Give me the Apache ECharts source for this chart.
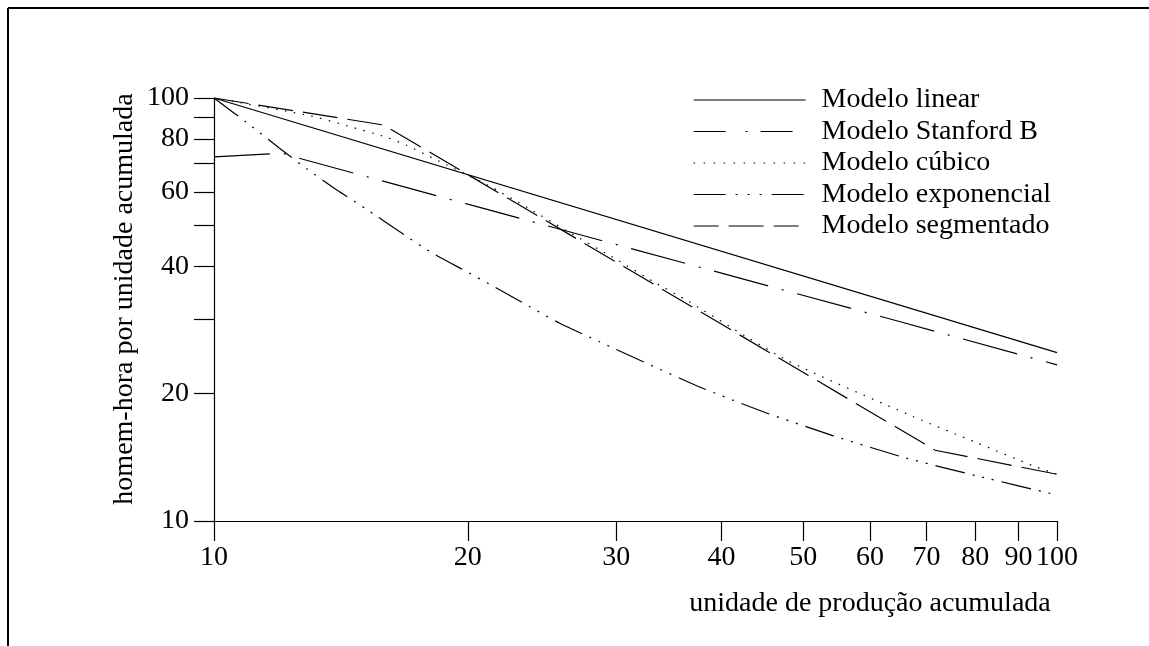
<!DOCTYPE html>
<html>
<head>
<meta charset="utf-8">
<script src="https://cdn.jsdelivr.net/npm/echarts@6/dist/echarts.min.js"></script>
<style>
html,body{margin:0;padding:0;background:#fff;}
#chart{width:1149px;height:646px;}
</style>
</head>
<body>
<div id="chart"></div>
<script>
// ---- data (log-log chart) ----
const xTicks = [10, 20, 30, 40, 50, 60, 70, 80, 90, 100];
const yTicks = [10, 20, 30, 40, 50, 60, 70, 80, 90, 100];
const yLabels = [10, 20, 40, 60, 80, 100];

const seriesNames = ['Modelo linear', 'Modelo Stanford B', 'Modelo cúbico', 'Modelo exponencial', 'Modelo segmentado'];

const linearX = [10, 100];
const linearY = [100, 25];

const stanfordX = [10, 11.5, 12.1, 12.5, 20, 65.5, 100];
const stanfordY = [72.6, 73.7, 73.9, 72.4, 56.1, 29.5, 23.4];

const cubicX = [10, 13, 14.4, 16, 16.9, 18.2, 21.1, 23.6, 26.1, 30.1, 33.2, 36.6, 47.8, 67.3, 80.4, 93.7, 100];
const cubicY = [100, 90.8, 85.9, 80.8, 77.4, 72, 62.3, 54.9, 48.75, 41.4, 36.8, 33.0, 24, 17.7, 15.3, 13.5, 12.9];

const expX = [10, 11, 11.96, 12.91, 14.09, 15.25, 16.68, 18.05, 19.87, 21.6, 23.7, 25.75, 28.7, 37.2, 44.9, 54.3, 66.1, 80.4, 100];
const expY = [100, 86.7, 76.1, 67.8, 60, 54.2, 48, 43.3, 39, 35.6, 32.1, 29.3, 26.5, 20.97, 18.1, 15.9, 14.1, 12.78, 11.52];

const segX = [10, 15.9, 71.7, 100];
const segY = [100, 86.3, 14.7, 12.9];

// ---- styles ----
const FONT = 'Liberation Serif';
const pairs = (xs, ys) => xs.map((x, i) => [x, ys[i]]);
const dashes = [
  'solid',
  [56, 14, 2, 14],
  [1.5, 7.5],
  [30, 8, 2, 8, 2, 8, 2, 8],
  [35, 10]
];
const legendDashes = [
  'solid',
  [32, 20, 2, 13],
  [1.5, 8.5],
  [32, 10, 2, 10, 2, 10, 2, 10],
  [25, 10, 35, 10]
];
const dataSets = [
  pairs(linearX, linearY),
  pairs(stanfordX, stanfordY),
  pairs(cubicX, cubicY),
  pairs(expX, expY),
  pairs(segX, segY)
];

const chart = echarts.init(document.getElementById('chart'), null, {renderer: 'canvas'});

const option = {
  backgroundColor: '#fff',
  animation: false,
  textStyle: {fontFamily: FONT, color: '#000'},
  grid: {left: 214, right: 92, top: 98, bottom: 125, containLabel: false},
  legend: {
    orient: 'vertical',
    left: 693,
    top: 86,
    padding: 0,
    itemWidth: 112,
    itemHeight: 14,
    itemGap: 3.5,
    itemStyle: {opacity: 0},
    textStyle: {fontFamily: FONT, fontSize: 28, color: '#000', padding: [0, 0, 0, 11]},
    data: seriesNames.map((n, i) => ({
      name: n,
      lineStyle: {type: legendDashes[i], width: 1.2, color: '#000'}
    }))
  },
  xAxis: {
    type: 'log',
    logBase: 10,
    min: 10,
    max: 100,
    splitLine: {show: false},
    minorTick: {show: false},
    axisLine: {show: true, lineStyle: {color: '#000', width: 1.2}},
    axisTick: {show: true, customValues: xTicks, length: 20, inside: false, lineStyle: {color: '#000', width: 1.2}},
    axisLabel: {customValues: xTicks, fontFamily: FONT, fontSize: 28, color: '#000', margin: 23,
      formatter: v => String(Math.round(v))}
  },
  yAxis: {
    type: 'log',
    logBase: 10,
    min: 10,
    max: 100,
    splitLine: {show: false},
    minorTick: {show: false},
    axisLine: {show: true, lineStyle: {color: '#000', width: 1.2}},
    axisTick: {show: true, customValues: yTicks, length: 20, inside: false, lineStyle: {color: '#000', width: 1.2}},
    axisLabel: {customValues: yLabels, fontFamily: FONT, fontSize: 28, color: '#000', margin: 25,
      formatter: v => String(Math.round(v))}
  },
  graphic: [
    {type: 'line', shape: {x1: 8, y1: 8, x2: 1149, y2: 8}, style: {stroke: '#000', lineWidth: 2}},
    {type: 'line', shape: {x1: 8, y1: 8, x2: 8, y2: 646}, style: {stroke: '#000', lineWidth: 2}},
    {type: 'text', x: 125, y: 299, rotation: Math.PI / 2,
      style: {text: 'homem-hora por unidade acumulada', fontFamily: FONT, fontSize: 28, fill: '#000',
        textAlign: 'center', textVerticalAlign: 'middle'}},
    {type: 'text', x: 870, y: 604,
      style: {text: 'unidade de produção acumulada', fontFamily: FONT, fontSize: 28, fill: '#000',
        textAlign: 'center', textVerticalAlign: 'middle'}}
  ],
  series: seriesNames.map((n, i) => ({
    name: n,
    type: 'line',
    data: dataSets[i],
    symbol: 'none',
    smooth: (i === 2 || i === 3) ? 0.2 : false,
    lineStyle: {color: '#000', width: 1.2, type: dashes[i]},
    itemStyle: {color: '#000'},
    emphasis: {disabled: true}
  }))
};
chart.setOption(option);
</script>
</body>
</html>
